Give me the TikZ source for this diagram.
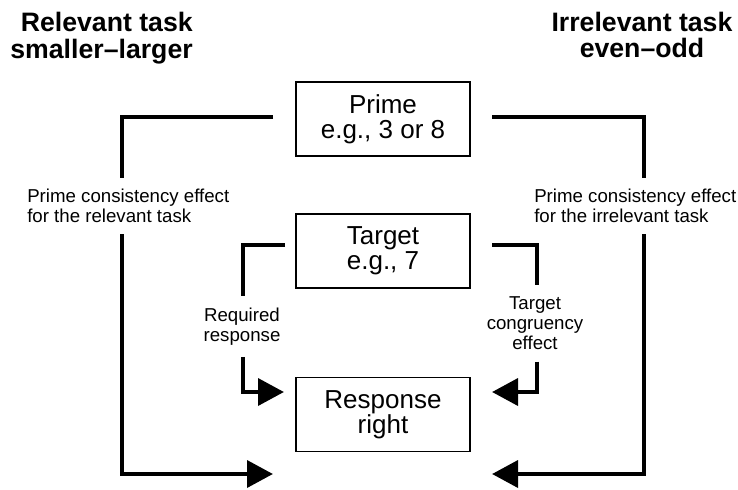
\documentclass[tikz,border=0pt]{standalone}
\usepackage{fontspec}
\setmainfont{Liberation Sans}
\usetikzlibrary{arrows.meta}

\tikzset{
  prbox/.style={draw, line width=1pt, minimum width=130.5pt, minimum height=55.5pt,
    inner sep=0pt, align=center, font=\fontsize{19.5}{19}\selectfont},
  heading/.style={inner sep=0pt, font=\fontsize{20}{20}\selectfont\bfseries},
  fxlabel/.style={inner xsep=0pt, inner ysep=8.5pt, font=\fontsize{14}{15}\selectfont},
  wire/.style={line width=3.5pt, line join=miter},
  arrowwire/.style={wire, -{Triangle[length=19.5pt,width=20pt]}}
}

\begin{document}
\begin{tikzpicture}[x=0.75pt,y=0.75pt,yscale=-1,xscale=1]
\useasboundingbox (0,0) rectangle (738,489);

% Text Node
\node[heading, align=right, anchor=east] (relhead) at (193,38) {Relevant task\\smaller--larger};
% Text Node
\node[heading, align=center] (irrhead) at (642,35) {Irrelevant task\\even--odd};

%Shape: Rectangle
\node[prbox] (prime) at (383,119) {Prime\\e.g., 3 or 8};
%Shape: Rectangle
\node[prbox] (target) at (383,251) {Target\\e.g., 7};
%Shape: Rectangle
\node[prbox] (resp) at (383,414.5) {Response\\right};

% Text Node
\node[fxlabel, align=left, anchor=west] (relfx) at (27,206) {Prime consistency effect\\for the relevant task};
% Text Node
\node[fxlabel, align=left, anchor=west] (irrfx) at (534,206) {Prime consistency effect\\for the irrelevant task};
% Text Node
\node[fxlabel, align=center] (reqfx) at (242,326.5) {Required\\response};
% Text Node
\node[fxlabel, align=center] (congfx) at (535,323.5) {Target\\congruency\\effect};

\coordinate (primeL) at (273,117);
\coordinate (primeR) at (492,117);
\coordinate (targetL) at (285,245);
\coordinate (targetR) at (492,245);
\coordinate (relcorner) at (122,117);
\coordinate (irrcorner) at (644,117);
\coordinate (reqcorner) at (243,245);
\coordinate (congcorner) at (537,245);
\coordinate (relend) at (273,474);
\coordinate (irrend) at (492,474);
\coordinate (reqend) at (284,392);
\coordinate (congend) at (492,392);

%Straight Lines
\draw[wire] (primeL) -- (relcorner) -- (relcorner |- relfx.north);
\draw[arrowwire] (relcorner |- relfx.south) |- (relend);
%Straight Lines
\draw[wire] (primeR) -- (irrcorner) -- (irrcorner |- irrfx.north);
\draw[arrowwire] (irrcorner |- irrfx.south) |- (irrend);
%Straight Lines
\draw[wire] (targetL) -- (reqcorner) -- (reqcorner |- reqfx.north);
\draw[arrowwire] (reqcorner |- reqfx.south) |- (reqend);
%Straight Lines
\draw[wire] (targetR) -- (congcorner) -- (congcorner |- congfx.north);
\draw[arrowwire] (congcorner |- congfx.south) |- (congend);
\end{tikzpicture}
\end{document}
